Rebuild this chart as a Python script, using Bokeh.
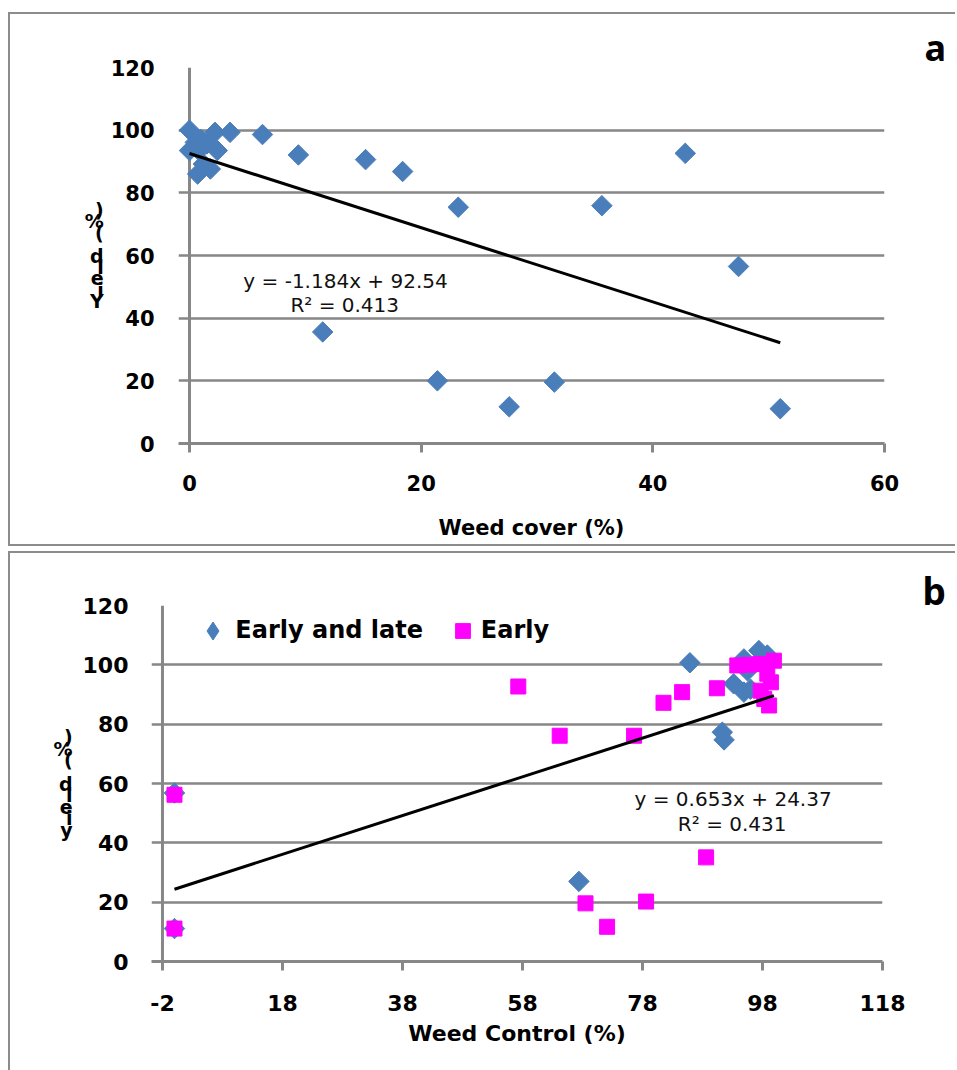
import math
from bokeh.plotting import figure
from bokeh.models import Range1d, FixedTicker, Span, Label, Legend, LegendItem, Title
from bokeh.embed import file_html
from bokeh.resources import INLINE

# ---------------- Panel a data ----------------
weed_cover = [0, 0.5, 1.5, 0, 0.8, 2.4, 2.2, 3.5, 1.2, 1.8, 0.7, 1.0,
              6.3, 9.4, 15.2, 18.4, 23.2, 35.6, 42.8, 47.4, 11.5, 21.4,
              27.6, 31.5, 51.0]
yield_a = [100, 96.1, 95.6, 93.5, 93.5, 93.5, 99.3, 99.3, 89.2, 87.6, 86.0, 97.0,
           98.6, 92.1, 90.6, 86.8, 75.4, 75.9, 92.6, 56.5, 35.6, 20.0,
           11.7, 19.6, 11.1]
slope_a = -1.184
intercept_a = 92.54
r2_a = 0.413

# ---------------- Panel b data ----------------
wc_early_late = [0, 0, 67.4, 85.9, 91.3, 91.6, 97.4, 98.8, 94.9, 95.5, 93.2, 94.9, 96.0]
yield_early_late = [56.8, 11.1, 27.0, 100.7, 77.3, 74.7, 104.8, 103.3, 102.0, 98.0, 93.6, 90.8, 91.8]
wc_early = [0, 0, 57.3, 64.2, 76.6, 81.5, 84.6, 90.4, 88.6, 68.5, 72.1, 78.6,
            93.8, 95.7, 97.6, 99.9, 98.8, 99.4, 97.7, 98.3, 99.1]
yield_early = [56.2, 11.1, 92.7, 76.1, 76.1, 87.2, 90.8, 92.1, 35.1, 19.6, 11.7, 20.2,
               99.8, 100.0, 100.3, 101.4, 97.0, 94.1, 91.3, 88.5, 86.3]
slope_b = 0.653
intercept_b = 24.37
r2_b = 0.431

y_ticks = [0, 20, 40, 60, 80, 100, 120]
x_ticks_a = [0, 20, 40, 60]
x_ticks_b = [-2, 18, 38, 58, 78, 98, 118]

GRID = "#878787"
BLUE = "#4a7ebb"
PINK = "#ff00ff"
FONT = "DejaVu Sans"


def style(p, yaxis_x, tick_px, title_px, xstand, title_stand, ystand, ylabel, ylh, ylabel_stand):
    p.outline_line_color = None
    p.xgrid.visible = False
    p.ygrid.grid_line_color = GRID
    p.ygrid.grid_line_width = 2.5
    p.yaxis.ticker = FixedTicker(ticks=y_ticks)
    p.yaxis.axis_line_color = None
    p.yaxis.major_tick_line_color = None
    p.yaxis.minor_tick_line_color = None
    p.yaxis.major_label_standoff = ystand
    for ax in (p.xaxis, p.yaxis):
        ax.major_label_text_font = FONT
        ax.major_label_text_font_style = "bold"
        ax.major_label_text_font_size = tick_px
        ax.major_label_text_color = "black"
        ax.axis_label_text_font = FONT
        ax.axis_label_text_font_style = "bold"
        ax.axis_label_text_color = "black"
    p.xaxis.axis_line_color = GRID
    p.xaxis.axis_line_width = 3
    p.xaxis.major_tick_line_color = GRID
    p.xaxis.major_tick_line_width = 3
    p.xaxis.major_tick_out = 9
    p.xaxis.major_tick_in = 0
    p.xaxis.minor_tick_line_color = None
    p.xaxis.major_label_standoff = xstand
    p.xaxis.axis_label_text_font_size = title_px
    p.xaxis.axis_label_standoff = title_stand
    # stacked (upright, overlapping) y-axis title, as in the original
    p.yaxis.axis_label = "\n".join(reversed(list(ylabel)))
    p.yaxis.axis_label_orientation = "horizontal"
    p.yaxis.axis_label_text_font_size = "19px"
    p.yaxis.axis_label_text_line_height = ylh
    p.yaxis.axis_label_text_align = "center"
    p.yaxis.axis_label_standoff = ylabel_stand
    vline = Span(location=yaxis_x, dimension="height", line_color=GRID, line_width=3, level="underlay")
    p.add_layout(vline)


# ================= Panel a =================
pa = figure(width=947, height=534, x_range=Range1d(-0.95, 60), y_range=Range1d(0, 120),
            output_backend="svg", toolbar_location=None,
            min_border_left=168, min_border_right=73, min_border_top=53, min_border_bottom=105,
            margin=(12, 0, 0, 8),
            styles={"border": "2px solid #8c8c8c", "border-right": "none"})
pa.xaxis.ticker = FixedTicker(ticks=x_ticks_a)
pa.xaxis.axis_label = "Weed cover (%)"
style(pa, 0, "21px", "21px", 22, 22, 18, "Yield (%)", 0.517, 4)

pa.scatter(weed_cover, yield_a, marker="square", angle=math.pi / 4, size=14.5,
           fill_color=BLUE, line_color=BLUE)
xa = [min(weed_cover), max(weed_cover)]
pa.line(xa, [slope_a * v + intercept_a for v in xa], line_color="black", line_width=3)

pa.add_layout(Label(x=13.47, y=52.0, text=f"y = {slope_a}x + {intercept_a}", text_align="center",
                    text_baseline="middle", text_font=FONT, text_font_size="20px", text_color="#111111"))
pa.add_layout(Label(x=13.4, y=44.1, text=f"R² = {r2_a}", text_align="center",
                    text_baseline="middle", text_font=FONT, text_font_size="20px", text_color="#111111"))
pa.add_layout(Title(text="a", align="left", offset=746, standoff=-9, vertical_align="bottom",
                    text_font="Noto Sans", text_font_style="bold", text_font_size="36px",
                    text_color="black"), "above")

# ================= Panel b =================
pb = figure(width=947, height=519, x_range=Range1d(-3.83, 118), y_range=Range1d(0, 120),
            output_backend="svg", toolbar_location=None,
            min_border_left=141, min_border_right=75, min_border_top=52, min_border_bottom=111,
            margin=(5, 0, 0, 8),
            styles={"border": "2px solid #8c8c8c", "border-right": "none", "border-bottom": "none"})
pb.xaxis.ticker = FixedTicker(ticks=x_ticks_b)
pb.xaxis.major_label_overrides = {-2: "-2"}
pb.xaxis.axis_label = "Weed Control (%)"
style(pb, -2, "22px", "22px", 24, 7, 17, "yield (%)", 0.523, 7)

r_el = pb.scatter(wc_early_late, yield_early_late, marker="square", angle=math.pi / 4, size=14.5,
                  fill_color=BLUE, line_color=BLUE)
r_e = pb.scatter(wc_early, yield_early, marker="square", size=15,
                 fill_color=PINK, line_color=PINK)
# legend swatch for the diamond series (legend swatches are drawn unrotated);
# hidden in the plot itself, shown only as the legend key
r_el_key = pb.scatter(wc_early_late, yield_early_late, marker="diamond", size=18,
                      fill_color=BLUE, line_color=BLUE, visible=False)
all_x = wc_early_late + wc_early
xb = [min(all_x), max(all_x)]
pb.line(xb, [slope_b * v + intercept_b for v in xb], line_color="black", line_width=3)

pb.add_layout(Label(x=93.1, y=54.9, text=f"y = {slope_b}x + {intercept_b}", text_align="center",
                    text_baseline="middle", text_font=FONT, text_font_size="20px", text_color="#111111"))
pb.add_layout(Label(x=92.95, y=46.5, text=f"R² = {r2_b}", text_align="center",
                    text_baseline="middle", text_font=FONT, text_font_size="20px", text_color="#111111"))
pb.add_layout(Title(text="b", align="left", offset=771, standoff=-20, vertical_align="bottom",
                    text_font="Noto Sans", text_font_style="bold", text_font_size="37px",
                    text_color="black"), "above")

common = dict(orientation="horizontal", label_standoff=0, padding=0, margin=0,
              border_line_color=None, background_fill_alpha=0,
              inactive_fill_alpha=0,
              label_text_font=FONT, label_text_font_style="bold",
              label_text_font_size="24px", label_text_color="black")
legend1 = Legend(items=[LegendItem(label="Early and late", renderers=[r_el_key])],
                 location=(39.3, 308.2), glyph_width=45, glyph_height=45, label_height=45, **common)
legend2 = Legend(items=[LegendItem(label="Early", renderers=[r_e])],
                 location=(292.8, 312.2), glyph_width=37, glyph_height=37, label_height=37, **common)
pb.add_layout(legend1)
pb.add_layout(legend2)

open("out.html", "w").write(file_html([pa, pb], INLINE))
